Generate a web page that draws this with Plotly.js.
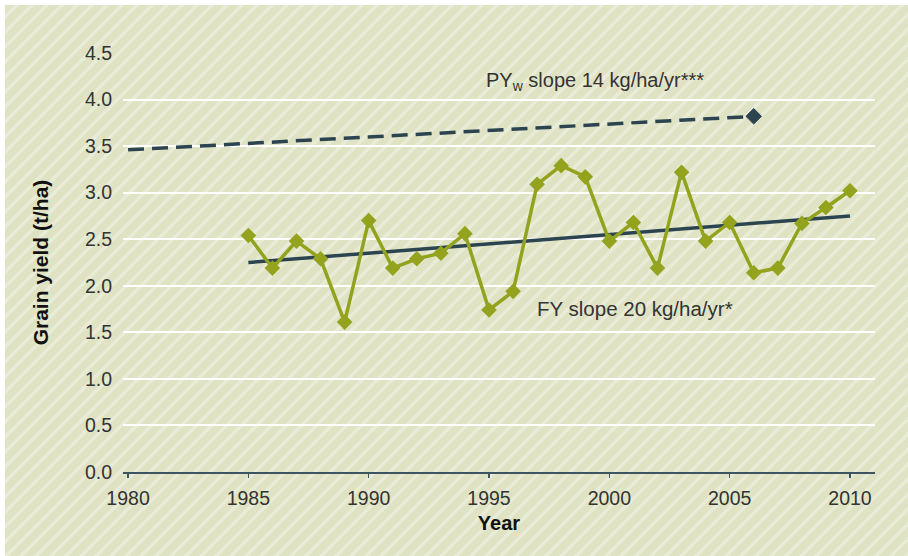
<!DOCTYPE html>
<html>
<head>
<meta charset="utf-8">
<script src="https://cdn.plot.ly/plotly-3.0.1.min.js"></script>
<style>
  html, body { margin: 0; padding: 0; background: #ffffff; }
  #bg {
    position: absolute; left: 5px; top: 5px; width: 903px; height: 551px;
    background: repeating-linear-gradient(135deg, #dfe3c4 0px, #dfe3c4 7px, #e8ebd6 7px, #e8ebd6 10.6px);
  }
  #chart { position: absolute; left: 0; top: 0; width: 908px; height: 556px; }
</style>
</head>
<body>
<div id="bg"></div>
<div id="chart"></div>
<script>
// Farmer yield (FY), t/ha
const years = [1985,1986,1987,1988,1989,1990,1991,1992,1993,1994,1995,1996,1997,1998,1999,2000,2001,2002,2003,2004,2005,2006,2007,2008,2009,2010];
const fy = [2.54,2.19,2.48,2.29,1.61,2.70,2.19,2.29,2.35,2.56,1.74,1.94,3.09,3.29,3.17,2.48,2.68,2.19,3.22,2.48,2.68,2.14,2.19,2.67,2.84,3.02];
// FY linear trend endpoints
const fyTrendYears = [1985, 2010];
const fyTrend = [2.25, 2.75];
// Water-limited potential yield (PYw) trend
const pyTrendYears = [1980, 2006];
const pyTrend = [3.46, 3.82];
const yTicks = [0,0.5,1,1.5,2,2.5,3,3.5,4,4.5];
const yTickText = ['0.0','0.5','1.0','1.5','2.0','2.5','3.0','3.5','4.0','4.5'];
const xTicks = [1980,1985,1990,1995,2000,2005,2010];

const green = '#93a31d';
const dark = '#2b4450';
const font = 'Liberation Sans, Arial, sans-serif';

const traces = [
  {
    x: pyTrendYears, y: pyTrend, type: 'scatter', mode: 'lines+markers',
    line: {color: dark, width: 3.5, dash: '16px,8px'},
    marker: {symbol: 'diamond', size: [0, 12], color: dark, opacity: 1, line: {width: 1, color: dark}},
    hoverinfo: 'skip', showlegend: false
  },
  {
    x: fyTrendYears, y: fyTrend, type: 'scatter', mode: 'lines',
    line: {color: dark, width: 3.5},
    hoverinfo: 'skip', showlegend: false
  },
  {
    x: years, y: fy, type: 'scatter', mode: 'lines+markers',
    line: {color: green, width: 3.5},
    marker: {symbol: 'diamond', size: 12, color: green},
    showlegend: false
  }
];

const layout = {
  width: 908, height: 556,
  paper_bgcolor: 'rgba(0,0,0,0)', plot_bgcolor: 'rgba(0,0,0,0)',
  margin: {l: 123, r: 33, t: 53, b: 84},
  font: {family: font, size: 19, color: '#333333'},
  xaxis: {
    range: [1979.79, 2011.04],
    tickvals: xTicks, ticktext: xTicks.map(String),
    showgrid: false, zeroline: false,
    showline: true, linecolor: '#3d5560', linewidth: 2,
    ticks: 'outside', ticklen: 4, tickwidth: 1.5, tickcolor: '#3d5560',
    ticklabelstandoff: 4,
    tickfont: {family: font, size: 19.5, color: '#333333'},
    title: {text: '<b>Year</b>', font: {family: font, size: 20, color: '#111111'}, standoff: 8}
  },
  yaxis: {
    range: [0, 4.5],
    tickvals: yTicks, ticktext: yTickText,
    showgrid: true, gridcolor: '#ffffff', gridwidth: 2,
    zeroline: false, showline: false, ticks: '',
    ticklabelstandoff: 10,
    tickfont: {family: font, size: 19.5, color: '#333333'},
    title: {text: '<b>Grain yield (t/ha)</b>', font: {family: font, size: 21, color: '#111111'}, standoff: 30}
  },
  annotations: [
    {x: 1999.4, y: 4.19, xref: 'x', yref: 'y', text: 'PY<sub>w</sub> slope 14 kg/ha/yr***',
     showarrow: false, font: {family: font, size: 20, color: '#333333'}},
    {x: 2001.06, y: 1.76, xref: 'x', yref: 'y', text: 'FY slope 20 kg/ha/yr*',
     showarrow: false, font: {family: font, size: 20.5, color: '#333333'}}
  ]
};

Plotly.newPlot('chart', traces, layout, {displayModeBar: false, staticPlot: true});
</script>
</body>
</html>
